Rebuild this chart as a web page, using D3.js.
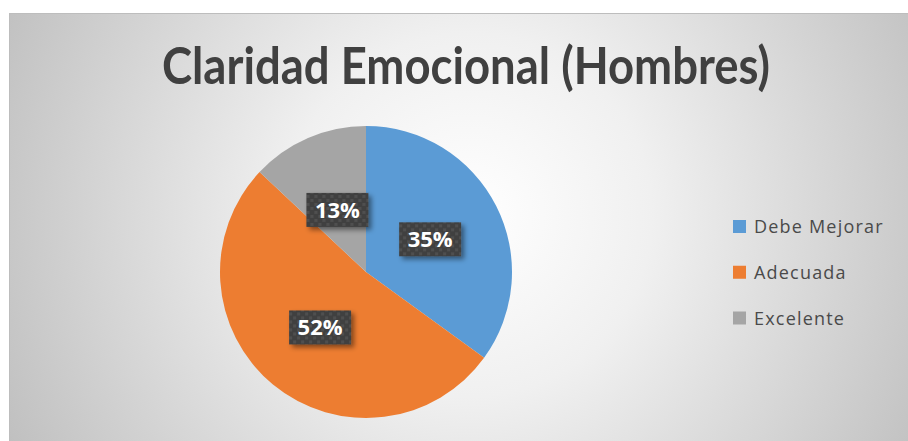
<!DOCTYPE html>
<html><head><meta charset="utf-8">
<script src="https://cdn.jsdelivr.net/npm/d3@7"></script>
<style>html,body{margin:0;padding:0;background:#fff;}</style>
</head><body>
<script>
const categories = ["Debe Mejorar", "Adecuada", "Excelente"];
const values = [35, 52, 13];
const labels = ["35%", "52%", "13%"];
const colors = ["#5B9BD5", "#ED7D31", "#A5A5A5"];
const title = "Claridad Emocional (Hombres)";

const W = 908, H = 441;
const svg = d3.select("body").append("svg").attr("width", W).attr("height", H);
const defs = svg.append("defs");

const rg = defs.append("radialGradient").attr("id","bg")
  .attr("gradientUnits","userSpaceOnUse").attr("cx",470).attr("cy",215).attr("r",520);
rg.append("stop").attr("offset","0").attr("stop-color","#ffffff");
rg.append("stop").attr("offset","0.35").attr("stop-color","#f0f0f0");
rg.append("stop").attr("offset","1").attr("stop-color","#bfbfbf");

const pat = defs.append("pattern").attr("id","dots").attr("patternUnits","userSpaceOnUse")
  .attr("width",8).attr("height",8);
pat.append("rect").attr("width",8).attr("height",8).attr("fill","#404040");
pat.append("rect").attr("x",1).attr("y",1).attr("width",3).attr("height",3).attr("fill","#4f4f4f");
pat.append("rect").attr("x",5).attr("y",5).attr("width",3).attr("height",3).attr("fill","#4f4f4f");

const f = defs.append("filter").attr("id","sh").attr("x","-30%").attr("y","-30%").attr("width","170%").attr("height","180%");
f.append("feDropShadow").attr("dx",3).attr("dy",3).attr("stdDeviation",2.5)
  .attr("flood-color","#000").attr("flood-opacity",0.45);

svg.append("rect").attr("x",9.5).attr("y",13.5).attr("width",W).attr("height",H)
  .attr("fill","url(#bg)").attr("stroke","#bdbdbd").attr("stroke-width",1);

svg.append("text").attr("x",466).attr("y",84).attr("text-anchor","middle")
  .attr("font-family","Lato, sans-serif").attr("font-weight","bold")
  .attr("font-size",51).attr("fill","#404040")
  .attr("textLength",608).attr("lengthAdjust","spacingAndGlyphs")
  .text(title);

const cx = 366, cy = 272, r = 146;
const pie = d3.pie().sort(null).value(d => d);
const arcs = pie(values);
const arc = d3.arc().innerRadius(0).outerRadius(r);
const g = svg.append("g").attr("transform", `translate(${cx},${cy})`);
g.selectAll("path").data(arcs).join("path")
  .attr("d", arc).attr("fill", (d,i) => colors[i]);

const labelArc = d3.arc().innerRadius(72).outerRadius(72);
const lg = g.selectAll("g.lbl").data(arcs).join("g").attr("class","lbl")
  .attr("transform", (d,i) => { const c = labelArc.centroid(d); return `translate(${c[0]},${c[1] + (i===2?4:0)})`; });
lg.append("rect").attr("x",-31).attr("y",-17).attr("width",62).attr("height",34)
  .attr("fill","url(#dots)").attr("filter","url(#sh)");
lg.append("text").attr("text-anchor","middle").attr("dy","0.36em")
  .attr("font-family","'Open Sans', sans-serif").attr("font-weight","bold")
  .attr("font-size",22).attr("fill","#ffffff")
  .text((d,i) => labels[i]);

const leg = svg.append("g");
const ly = d3.scalePoint().domain(categories).range([227, 318.5]);
categories.forEach((c,i) => {
  const y = ly(c);
  leg.append("rect").attr("x",733).attr("y",y-7).attr("width",13).attr("height",13).attr("fill",colors[i]);
  leg.append("text").attr("x",754).attr("y",y).attr("dy","0.35em")
    .attr("font-family","'Open Sans', sans-serif").attr("font-size",18)
    .attr("letter-spacing","1.2px").attr("fill","#4a4a4a").text(c);
});
</script>
</body></html>
